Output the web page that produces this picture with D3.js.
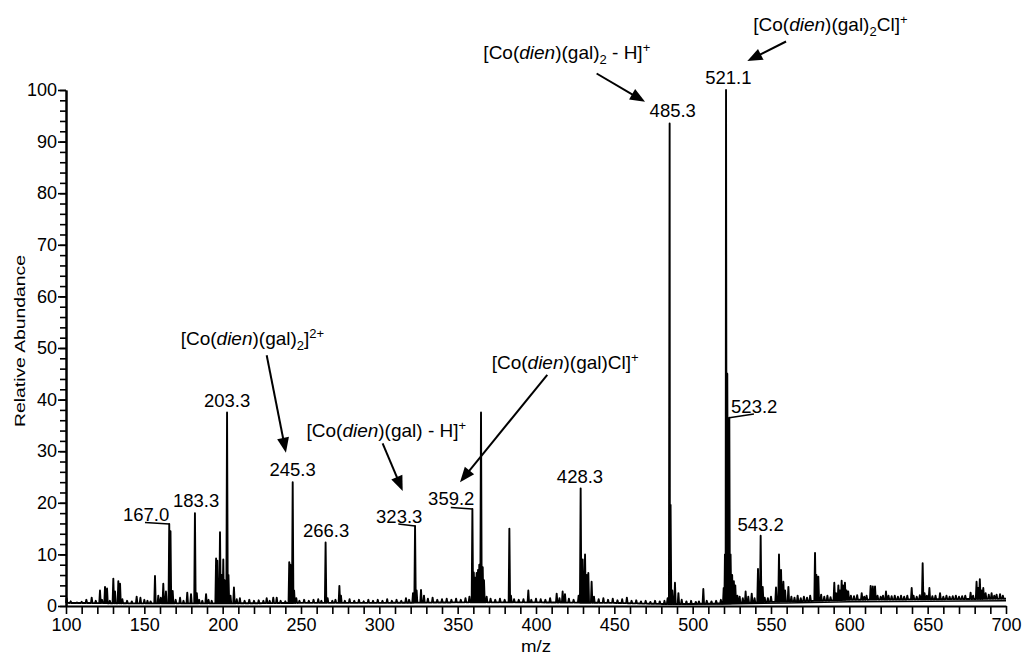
<!DOCTYPE html>
<html>
<head>
<meta charset="utf-8">
<script src="https://cdn.jsdelivr.net/npm/d3@7"></script>
<style>
  body { margin: 0; background: #fff; }
  svg { display: block; font-family: "Liberation Sans", Arial, sans-serif; }
</style>
</head>
<body>
<svg id="chart" width="1025" height="655"></svg>
<script>
// tick labels
const xTickLabels = [100, 150, 200, 250, 300, 350, 400, 450, 500, 550, 600, 650, 700];
const yTickLabels = [0, 10, 20, 30, 40, 50, 60, 70, 80, 90, 100];

// spectrum peaks (m/z, relative abundance)
const peakMz = [
  100.4, 103, 107, 110, 113, 116.4, 119, 121.7, 123, 124.9,
  126.2, 128, 130.2, 131.3, 133.4, 134.5, 136, 139, 142, 145.1,
  147.5, 150, 152, 154, 156.8, 158.9, 160.5, 162.1, 163.8, 165.9,
  166.7, 168.1, 170, 172.8, 175, 177.4, 179.8, 182.3, 183.5, 185,
  187, 189.4, 191, 193, 195.8, 196.6, 198.3, 199.2, 200.4, 201.2,
  202.8, 203.7, 205, 207.2, 209, 211, 214, 217, 220, 223,
  226, 228.1, 230, 232.3, 234.5, 237, 240, 242.5, 243.2, 244.7,
  245.6, 247, 249, 252, 255, 258, 261, 263, 265.7, 267,
  270, 272, 274.5, 275.5, 278, 281, 284, 287, 290, 293,
  296, 299, 302, 305, 308, 311, 314, 317, 319, 321.5,
  322.8, 323.8, 326.6, 328.5, 331, 334, 337, 340, 343, 346,
  349, 352, 355, 357.5, 359.4, 360.3, 361.2, 362.1, 363, 363.8,
  364.9, 366, 366.8, 368.5, 371, 374, 377, 380, 383, 384,
  386, 389, 392, 395.1, 397, 400, 403, 406, 409, 413.2,
  415, 417, 418.5, 421, 424, 427.2, 428.5, 429.8, 431.3, 432.4,
  433.4, 435.5, 437, 440, 443, 446, 449, 452, 455, 458,
  461, 464, 467, 470, 473, 476, 479, 482, 484, 485.3,
  485.9, 487, 488.7, 490.9, 493, 496, 499, 502, 504, 506.8,
  509, 512, 515, 518, 519.8, 520.6, 521.3, 522.1, 523.4, 524.2,
  525.2, 526.3, 527.2, 528.5, 530, 532, 533.8, 535.5, 537.7, 539.5,
  541.7, 543.4, 544.7, 546, 548, 550, 553.2, 555.1, 556.4, 557.9,
  559, 561.1, 563, 565, 567, 569, 571, 573, 575, 578.1,
  579, 580.2, 582, 584, 586, 588, 590.4, 591.5, 593, 594,
  595.1, 596, 597.2, 598.2, 599.3, 601, 603, 605, 607.9, 609.5,
  611, 613.6, 615, 616.4, 618, 620, 621.5, 623.4, 625, 627,
  629, 631, 633, 635, 637, 639.8, 641, 643, 645, 646.8,
  648, 649.5, 651.1, 653, 655, 657.9, 660, 662, 664, 666,
  668, 670, 672, 674, 677.4, 679, 681.2, 682.2, 683.3, 684.5,
  685.5, 687, 689, 690.8, 692.5, 694, 696.2, 698
];
const peakInt = [
  1.5, 0.9, 0.7, 0.8, 1.2, 1.6, 1.0, 3.0, 1.2, 3.7,
  3.4, 1.0, 5.3, 2.8, 4.8, 4.3, 1.3, 1.0, 0.9, 1.8,
  1.6, 1.2, 1.0, 0.9, 5.8, 2.0, 1.6, 4.3, 2.8, 15.9,
  14.5, 2.9, 1.2, 1.6, 1.0, 2.6, 2.3, 18.0, 2.5, 1.2,
  1.0, 2.3, 1.2, 1.0, 9.2, 8.8, 14.3, 6.0, 9.0, 5.0,
  37.5, 6.0, 2.0, 3.6, 1.3, 1.5, 1.0, 1.2, 1.0, 1.1,
  1.0, 1.5, 1.0, 1.6, 1.6, 1.0, 0.9, 8.5, 8.0, 24.0,
  3.0, 1.5, 1.0, 1.2, 1.0, 1.2, 1.3, 1.0, 12.3, 1.5,
  1.0, 1.2, 3.9, 2.0, 1.0, 1.3, 1.0, 1.2, 0.9, 1.2,
  1.0, 1.2, 1.0, 1.3, 1.0, 1.2, 1.0, 1.5, 1.2, 2.5,
  15.5, 3.0, 3.1, 2.0, 1.4, 1.6, 1.2, 1.3, 1.4, 1.2,
  1.4, 1.2, 1.5, 1.8, 18.8, 6.5, 5.5, 6.4, 7.0, 8.0,
  37.5, 7.5, 5.0, 1.8, 1.4, 1.2, 1.4, 1.2, 15.0, 2.0,
  1.3, 1.2, 1.3, 3.0, 1.2, 1.4, 1.3, 1.2, 1.5, 2.4,
  1.5, 2.8, 2.3, 1.4, 1.2, 2.0, 22.8, 9.0, 10.0, 6.0,
  6.4, 4.7, 1.8, 1.3, 1.5, 1.2, 1.4, 1.1, 1.3, 1.6,
  1.0, 1.1, 0.9, 1.0, 0.8, 1.0, 0.9, 1.0, 1.5, 93.5,
  19.6, 3.0, 4.5, 2.5, 1.2, 0.9, 1.0, 0.8, 0.9, 3.3,
  1.0, 0.9, 1.0, 1.2, 3.5, 10.0, 100, 45, 36.5, 10,
  6.0, 4.8, 4.0, 2.0, 1.8, 1.5, 2.8, 1.8, 2.4, 1.5,
  7.2, 13.6, 3.7, 1.6, 1.5, 1.8, 3.6, 10.0, 7.0, 4.7,
  3.0, 3.7, 1.8, 1.6, 2.0, 1.5, 1.8, 1.6, 2.0, 10.3,
  6.0, 5.7, 2.2, 1.8, 2.0, 1.7, 4.5, 2.5, 4.0, 3.0,
  4.9, 4.0, 4.5, 3.0, 2.8, 2.0, 1.9, 2.1, 2.5, 1.8,
  2.0, 3.9, 3.8, 3.8, 2.0, 1.8, 2.0, 2.8, 2.0, 1.9,
  2.0, 1.8, 2.0, 1.8, 2.0, 3.5, 2.0, 1.8, 2.1, 8.3,
  2.5, 2.0, 3.5, 1.9, 2.0, 2.5, 1.8, 2.0, 1.8, 1.9,
  2.0, 1.8, 1.9, 2.0, 2.6, 2.0, 4.7, 3.5, 5.2, 3.0,
  3.5, 2.5, 2.2, 2.5, 2.0, 2.2, 2.3, 2.0
];

// baseline level under the peaks
const baseMz = [100, 150, 200, 250, 300, 350, 400, 450, 480, 500, 520, 550, 580, 600, 650, 700];
const baseInt = [0.6, 0.5, 0.5, 0.6, 0.6, 0.7, 0.7, 0.6, 0.4, 0.4, 0.5, 0.8, 1.0, 1.2, 1.3, 1.4];

// second, smoother trace under the band at high m/z
const lowerMz = [480, 520, 560, 600, 650, 700];
const lowerInt = [0.4, 0.4, 0.6, 0.8, 0.9, 1.0];

// labelled peaks
const labelText = ['167.0', '183.3', '203.3', '245.3', '266.3', '323.3', '359.2', '428.3', '485.3', '521.1', '523.2', '543.2'];

const svg = d3.select('#chart');
const x = d3.scaleLinear().domain([100, 700]).range([66, 1006]);
const y = d3.scaleLinear().domain([0, 100]).range([606, 90]);

// spectrum trace
const baseAt = d3.scaleLinear().domain(baseMz).range(baseInt);
const pts = [[100, baseAt(100)]];
peakMz.forEach((m, i) => {
  pts.push([m - 0.45, baseAt(m - 0.45)], [m, peakInt[i]], [m + 0.45, baseAt(m + 0.45)]);
});
pts.push([700, baseAt(700)]);
pts.sort((a, b) => a[0] - b[0]);

const line = d3.line().x(d => x(d[0])).y(d => y(d[1]));

svg.append('path')
  .datum(lowerMz.map((m, i) => [m, lowerInt[i]]))
  .attr('d', line)
  .attr('fill', 'none')
  .attr('stroke', '#000')
  .attr('stroke-width', 1.5);

svg.append('path')
  .datum(pts)
  .attr('d', line)
  .attr('fill', 'none')
  .attr('stroke', '#000')
  .attr('stroke-width', 1.9)
  .attr('stroke-linejoin', 'round');

// axes
const xAxis = svg.append('g')
  .attr('transform', `translate(0,${y(0)})`)
  .call(d3.axisBottom(x)
    .tickValues(d3.range(100, 701, 10))
    .tickSize(8).tickSizeOuter(0).tickPadding(4)
    .tickFormat(d => xTickLabels.includes(d) ? d : ''));

const yMinor = svg.append('g')
  .attr('transform', `translate(${x(100)},0)`)
  .call(d3.axisLeft(y).tickValues(d3.range(0, 101, 2)).tickSize(6).tickSizeOuter(0).tickFormat(''));

const yAxis = svg.append('g')
  .attr('transform', `translate(${x(100)},0)`)
  .call(d3.axisLeft(y).tickValues(yTickLabels).tickSize(8).tickSizeOuter(0).tickPadding(1));

[xAxis, yMinor, yAxis].forEach(g => {
  g.attr('font-family', null).attr('font-size', null);
  g.select('.domain').attr('stroke', '#000').attr('stroke-width', 2);
  g.selectAll('.tick line').attr('stroke', '#000').attr('stroke-width', 1.6);
  g.selectAll('.tick text').attr('fill', '#000').style('font-size', '18px');
});

svg.append('text')
  .attr('x', (x(100) + x(700)) / 2)
  .attr('y', 652)
  .attr('text-anchor', 'middle')
  .attr('textLength', 30)
  .attr('lengthAdjust', 'spacingAndGlyphs')
  .style('font-size', '16px')
  .text('m/z');

svg.append('text')
  .attr('transform', `translate(25,${(y(0) + y(100)) / 2 - 7}) rotate(-90)`)
  .attr('text-anchor', 'middle')
  .attr('textLength', 172)
  .attr('lengthAdjust', 'spacingAndGlyphs')
  .style('font-size', '15px')
  .text('Relative Abundance');

// peak value labels (positions in data units)
const labelPos = [
  [151.1, 16.5], [183.0, 19.1], [202.8, 38.5], [244.6, 25.1], [266.0, 13.4], [312.7, 16.1],
  [345.9, 19.6], [428.1, 23.9], [487.3, 94.8], [522.8, 101.2], [539.3, 37.5], [543.4, 14.6]
];
svg.append('g').selectAll('text')
  .data(labelText)
  .join('text')
  .attr('x', (d, i) => x(labelPos[i][0]))
  .attr('y', (d, i) => y(labelPos[i][1]))
  .attr('text-anchor', 'middle')
  .style('font-size', '18.5px')
  .text(d => d);

// leader lines from peak tops to their labels
const leaders = [
  [[165.9, 15.9], [150.4, 16.2]],
  [[322.8, 15.5], [312.1, 15.9]],
  [[359.4, 18.8], [345.6, 19.1]],
  [[523.4, 36.5], [539.1, 37.2]]
];
svg.append('g').selectAll('line')
  .data(leaders)
  .join('line')
  .attr('x1', d => x(d[0][0])).attr('y1', d => y(d[0][1]))
  .attr('x2', d => x(d[1][0])).attr('y2', d => y(d[1][1]))
  .attr('stroke', '#000').attr('stroke-width', 1.5);

// ion formulas
const formulas = [
  { at: [366.4, 106.1], parts: [['[Co('], ['dien', 'i'], [')(gal)'], ['2', 'sub'], [' - H]'], ['+', 'sup']] },
  { at: [538.7, 111.5], parts: [['[Co('], ['dien', 'i'], [')(gal)'], ['2', 'sub'], ['Cl]'], ['+', 'sup']] },
  { at: [173.2, 50.6], parts: [['[Co('], ['dien', 'i'], [')(gal)'], ['2', 'sub'], [']'], ['2+', 'sup']] },
  { at: [253.5, 32.7], parts: [['[Co('], ['dien', 'i'], [')(gal) - H]'], ['+', 'sup']] },
  { at: [371.7, 45.9], parts: [['[Co('], ['dien', 'i'], [')(gal)Cl]'], ['+', 'sup']] }
];
formulas.forEach(f => {
  const t = svg.append('text')
    .attr('x', x(f.at[0]))
    .attr('y', y(f.at[1]))
    .style('font-size', '19px');
  let shift = 0;
  f.parts.forEach(([s, kind]) => {
    const want = kind === 'sub' ? 5 : kind === 'sup' ? -7 : 0;
    const ts = t.append('tspan').attr('dy', want - shift).text(s);
    shift = want;
    if (kind === 'i') ts.style('font-style', 'italic');
    if (kind === 'sub' || kind === 'sup') ts.style('font-size', '13px');
  });
});

// arrows
const arrows = [
  [[438.7, 103.2], [469.6, 97.7]],
  [[559.6, 109.4], [534.9, 105.6]],
  [[228.1, 48.6], [240.4, 29.7]],
  [[302.1, 31.5], [314.9, 22.3]],
  [[407.2, 44.8], [351.5, 24.0]]
];
const ag = svg.append('g');
arrows.forEach(([a, b]) => {
  const x1 = x(a[0]), y1 = y(a[1]), x2 = x(b[0]), y2 = y(b[1]);
  const ang = Math.atan2(y2 - y1, x2 - x1);
  const len = 15, half = 6;
  const bx = x2 - len * Math.cos(ang), by = y2 - len * Math.sin(ang);
  ag.append('line')
    .attr('x1', x1).attr('y1', y1)
    .attr('x2', bx + 2 * Math.cos(ang)).attr('y2', by + 2 * Math.sin(ang))
    .attr('stroke', '#000').attr('stroke-width', 2);
  ag.append('path')
    .attr('d', `M${x2},${y2}L${bx - half * Math.sin(ang)},${by + half * Math.cos(ang)}L${bx + half * Math.sin(ang)},${by - half * Math.cos(ang)}Z`)
    .attr('fill', '#000');
});
</script>
</body>
</html>
